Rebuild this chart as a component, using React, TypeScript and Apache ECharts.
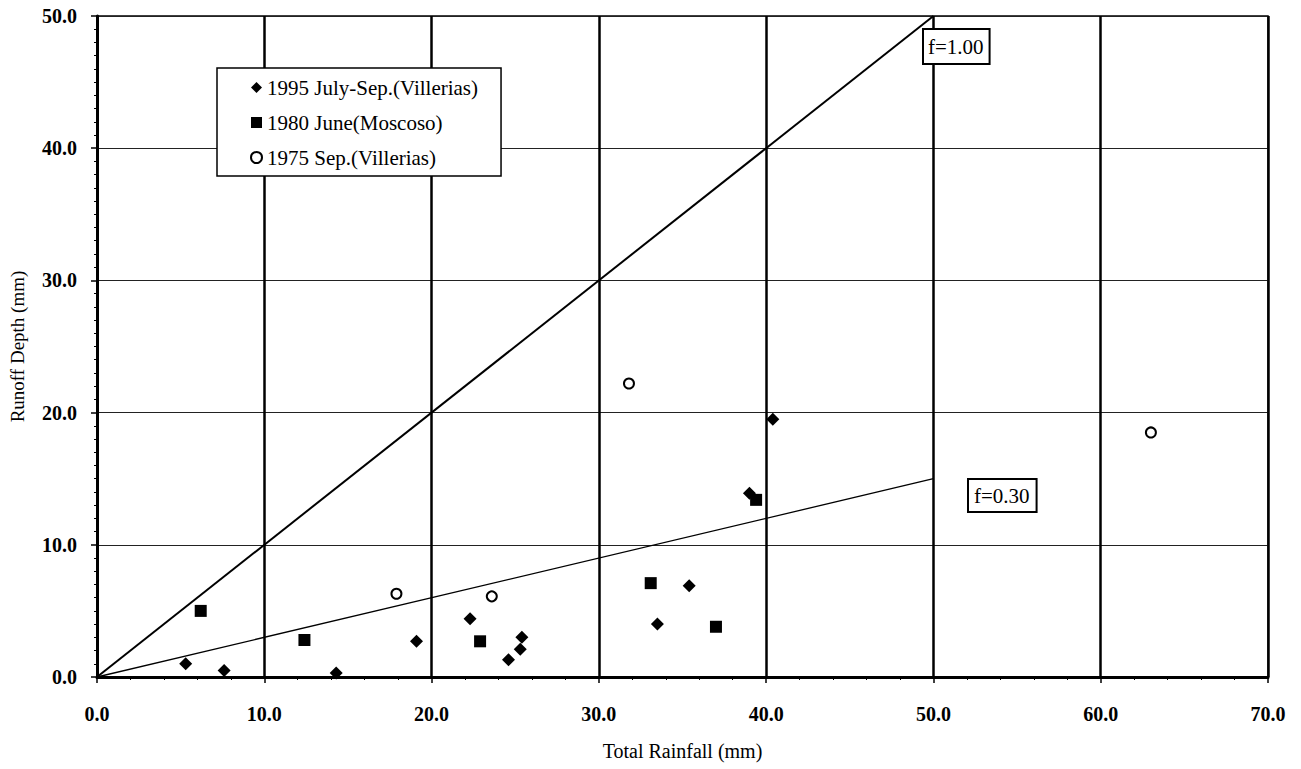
import React, { useEffect, useRef } from 'react';
import * as echarts from 'echarts';

const rain1995 = [5.3, 7.6, 14.3, 19.1, 22.3, 24.6, 25.3, 25.4, 33.5, 35.4, 39.0, 40.4];
const runoff1995 = [1.0, 0.5, 0.3, 2.7, 4.4, 1.3, 2.1, 3.0, 4.0, 6.9, 13.9, 19.5];
const rain1980 = [6.2, 12.4, 22.9, 33.1, 37.0, 39.4];
const runoff1980 = [5.0, 2.8, 2.7, 7.1, 3.8, 13.4];
const rain1975 = [17.9, 23.6, 31.8, 63.0];
const runoff1975 = [6.3, 6.1, 22.2, 18.5];
const seriesNames = ['1995 July-Sep.(Villerias)', '1980 June(Moscoso)', '1975 Sep.(Villerias)'];
const fValues = [1.0, 0.3];
const fLabels = ['f=1.00', 'f=0.30'];
const lineEndRain = 50;
const xTicks = { min: 0, max: 70, interval: 10 };
const yTicks = { min: 0, max: 50, interval: 10 };

const FONT = '"Liberation Serif", "Times New Roman", serif';

const zip = (a: number[], b: number[]) => a.map((v, i) => [v, b[i]]);

export default function App() {
  const ref = useRef<HTMLDivElement>(null);
  useEffect(() => {
    if (!ref.current) return;
    const chart = echarts.init(ref.current, null, { renderer: 'svg' });
    const option: any = {
      animation: false,
      backgroundColor: '#fff',
      grid: {
        left: 97, right: 33, top: 16, bottom: 92,
        show: true, borderColor: '#000', borderWidth: 1.5,
      },
      xAxis: {
        type: 'value', ...xTicks,
        name: 'Total Rainfall (mm)', nameLocation: 'middle', nameGap: 64,
        nameTextStyle: { fontFamily: FONT, fontSize: 20, color: '#000' },
        axisLine: { show: true, onZero: false, lineStyle: { color: '#000', width: 3 } },
        axisTick: { show: true, length: 6, lineStyle: { color: '#000', width: 1.5 } },
        minorTick: { show: true, splitNumber: 5, length: 3, lineStyle: { color: '#000' } },
        axisLabel: {
          margin: 27, fontFamily: FONT, fontSize: 20, fontWeight: 'bold', color: '#000',
          formatter: (v: number) => v.toFixed(1),
        },
        splitLine: { show: true, lineStyle: { color: '#000', width: 2.5 } },
      },
      yAxis: {
        type: 'value', ...yTicks,
        name: 'Runoff Depth (mm)', nameLocation: 'middle', nameGap: 70,
        nameTextStyle: { fontFamily: FONT, fontSize: 19, color: '#000' },
        axisLine: { show: true, onZero: false, lineStyle: { color: '#000', width: 3 } },
        axisTick: { show: true, length: 6, lineStyle: { color: '#000', width: 1.5 } },
        minorTick: { show: true, splitNumber: 10, length: 3, lineStyle: { color: '#000' } },
        axisLabel: {
          margin: 20, fontFamily: FONT, fontSize: 20, fontWeight: 'bold', color: '#000',
          formatter: (v: number) => v.toFixed(1),
        },
        splitLine: { show: true, lineStyle: { color: '#222', width: 1.2 } },
      },
      legend: {
        data: seriesNames.map((n, i) => ({
          name: n,
          icon: ['diamond', 'rect', 'emptyCircle'][i],
        })),
        orient: 'vertical',
        left: 217, top: 68,
        backgroundColor: '#fff',
        borderColor: '#000', borderWidth: 1.5,
        padding: [9, 23, 8, 33],
        itemGap: 14, itemWidth: 11, itemHeight: 11,
        textStyle: { fontFamily: FONT, fontSize: 21, color: '#000' },
      },
      series: [
        {
          name: seriesNames[0], type: 'scatter', symbol: 'diamond', symbolSize: 13,
          itemStyle: { color: '#000', opacity: 1 }, data: zip(rain1995, runoff1995), z: 5,
        },
        {
          name: seriesNames[1], type: 'scatter', symbol: 'rect', symbolSize: 12,
          itemStyle: { color: '#000', opacity: 1 }, data: zip(rain1980, runoff1980), z: 5,
        },
        {
          name: seriesNames[2], type: 'scatter', symbol: 'emptyCircle', symbolSize: 10,
          itemStyle: { color: '#000', borderColor: '#000', borderWidth: 3, opacity: 1 },
          data: zip(rain1975, runoff1975), z: 5,
        },
        ...fValues.map((f, i) => ({
          name: fLabels[i], type: 'line', showSymbol: false, silent: true,
          lineStyle: { color: '#000', width: i === 0 ? 2 : 1.3 },
          data: [[0, 0], [lineEndRain, lineEndRain * f]],
          z: 3,
        })),
      ],
      graphic: [
        {
          type: 'text', left: 922, top: 28, z: 10,
          style: {
            text: fLabels[0], font: `21px ${FONT}`, fill: '#000',
            backgroundColor: '#fff', borderColor: '#000', borderWidth: 2, padding: [6, 5, 6, 4],
          },
        },
        {
          type: 'text', left: 967, top: 478, z: 10,
          style: {
            text: fLabels[1], font: `21px ${FONT}`, fill: '#000',
            backgroundColor: '#fff', borderColor: '#000', borderWidth: 2, padding: [5, 6, 5, 5],
          },
        },
      ],
    };
    chart.setOption(option);
    return () => chart.dispose();
  }, []);
  return <div ref={ref} style={{ position: 'fixed', left: 0, top: 0, width: 1301, height: 769, background: '#fff' }} />;
}
